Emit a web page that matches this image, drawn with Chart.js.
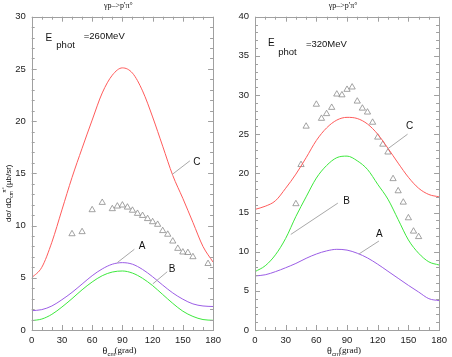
<!DOCTYPE html>
<html>
<head>
<meta charset="utf-8">
<script src="https://cdn.jsdelivr.net/npm/chart.js@4.4.1/dist/chart.umd.min.js"></script>
<style>
  body { margin: 0; background: #fff; }
  #wrap { position: relative; width: 452px; height: 357px; overflow: hidden; }
  canvas { position: absolute; top: 0; }
  #left { left: 0; }
  #right { left: 226px; }
</style>
</head>
<body>
<div id="wrap">
  <canvas id="left" width="226" height="357"></canvas>
  <canvas id="right" width="226" height="357"></canvas>
</div>
<script>
// angles (cm, degrees) for the model curves
const angles = [0, 10, 20, 30, 40, 50, 60, 70, 80, 90, 100, 110, 120, 130, 140, 150, 160, 170, 180];

// E_phot = 260 MeV
const left_C = [5.0, 6.0, 8.4, 11.5, 14.6, 17.4, 20.1, 22.7, 24.4, 25.1, 24.6, 22.9, 20.4, 17.6, 14.8, 12.6, 10.3, 8.0, 6.5];
const left_A = [1.85, 1.95, 2.3, 2.9, 3.6, 4.4, 5.2, 5.85, 6.3, 6.45, 6.3, 5.8, 5.1, 4.3, 3.55, 2.95, 2.5, 2.3, 2.25];
const left_B = [0.9, 1.05, 1.5, 2.2, 3.0, 3.85, 4.6, 5.2, 5.55, 5.65, 5.45, 4.95, 4.25, 3.4, 2.55, 1.8, 1.3, 1.0, 0.93];
const left_expX = [40, 50, 60, 70, 80, 85, 90, 95, 100, 105, 110, 115, 120, 125, 130, 135, 140, 145, 150, 155, 160, 175];
const left_expY = [9.2, 9.4, 11.5, 12.2, 11.6, 11.85, 11.95, 11.75, 11.45, 11.15, 10.95, 10.65, 10.35, 10.1, 9.5, 9.15, 8.5, 7.8, 7.45, 7.4, 7.0, 6.35];

// E_phot = 320 MeV
const right_C = [15.4, 15.8, 16.5, 18.1, 19.9, 22.0, 24.2, 25.8, 26.8, 27.15, 27.0, 26.3, 25.0, 23.2, 21.3, 19.5, 18.1, 17.3, 17.0];
const right_A = [6.9, 7.05, 7.45, 7.95, 8.5, 9.15, 9.7, 10.1, 10.3, 10.2, 9.8, 9.2, 8.4, 7.5, 6.6, 5.7, 4.85, 4.0, 3.75];
const right_B = [7.45, 8.2, 9.6, 11.7, 14.5, 17.0, 19.4, 21.0, 22.0, 22.2, 21.6, 20.5, 18.6, 16.7, 14.1, 11.5, 9.8, 8.7, 8.3];
const right_expX = [40, 45, 50, 60, 65, 70, 75, 80, 85, 90, 95, 100, 105, 110, 115, 120, 125, 130, 135, 140, 145, 150, 155, 160];
const right_expY = [16.1, 21.1, 26.0, 28.8, 27.0, 27.6, 28.4, 30.1, 30.0, 30.7, 31.0, 29.2, 28.3, 27.8, 26.5, 24.6, 23.7, 22.7, 19.3, 17.75, 16.3, 14.3, 12.6, 11.9];

const xTicks = [0, 30, 60, 90, 120, 150, 180];

const SANS = '"Liberation Sans", Arial, sans-serif';
const SERIF = '"Liberation Serif", "Times New Roman", serif';
const AXIS = '#a0a0a0';

function pts(xs, ys) {
  return xs.map((x, i) => ({ x: x, y: ys[i] }));
}

function curve(ys, color) {
  return {
    data: pts(angles, ys),
    showLine: true,
    borderColor: color,
    borderWidth: 1,
    pointRadius: 0,
    cubicInterpolationMode: 'monotone',
    fill: false
  };
}

// ticks inside the frame, frame, labels and leader lines
const decor = {
  id: 'decor',
  afterDraw(chart, args, o) {
    const ctx = chart.ctx;
    const a = chart.chartArea;
    const xs = chart.scales.x, ys = chart.scales.y;
    ctx.save();
    ctx.strokeStyle = AXIS;
    ctx.lineWidth = 1;
    ctx.strokeRect(Math.round(a.left) + 0.5, Math.round(a.top) + 0.5,
      Math.round(a.right - a.left), Math.round(a.bottom - a.top));
    ctx.beginPath();
    for (let v = 0; v <= 180; v += 10) {
      const p = Math.round(xs.getPixelForValue(v)) + 0.5;
      const len = v % 30 === 0 ? 5 : 3;
      ctx.moveTo(p, a.bottom); ctx.lineTo(p, a.bottom - len);
      ctx.moveTo(p, a.top); ctx.lineTo(p, a.top + len);
    }
    for (let v = 0; v <= o.yMax; v += 1) {
      const p = Math.round(ys.getPixelForValue(v)) + 0.5;
      const len = v % 5 === 0 ? 5 : 3;
      ctx.moveTo(a.left, p); ctx.lineTo(a.left + len, p);
      ctx.moveTo(a.right, p); ctx.lineTo(a.right - len, p);
    }
    ctx.stroke();

    // leader lines
    ctx.strokeStyle = '#a8a8a8';
    ctx.beginPath();
    o.leaders.forEach(l => {
      ctx.moveTo(xs.getPixelForValue(l[0]), ys.getPixelForValue(l[1]));
      ctx.lineTo(xs.getPixelForValue(l[2]), ys.getPixelForValue(l[3]));
    });
    ctx.stroke();

    ctx.fillStyle = '#111';
    ctx.textAlign = 'center';
    ctx.textBaseline = 'middle';
    o.notes.forEach(n => {
      ctx.font = n.font;
      ctx.fillText(n.text, xs.getPixelForValue(n.x), ys.getPixelForValue(n.y));
    });

    // title
    const cx = (a.left + a.right) / 2;
    ctx.font = '8px ' + SERIF;
    ctx.fillText('\u03b3p\u2013>p\'\u03c0\u00b0', cx - 4, 6);

    // x axis title
    ctx.textAlign = 'left';
    ctx.font = '10px ' + SERIF;
    let x0 = cx - 20;
    ctx.fillText('\u03b8', x0, 351);
    ctx.font = '6px ' + SANS;
    ctx.fillText('cm', x0 + 5, 354);
    ctx.font = '9px ' + SERIF;
    ctx.fillText('(grad)', x0 + 12, 351);

    if (o.yTitle) {
      ctx.translate(9, 192);
      ctx.rotate(-Math.PI / 2);
      ctx.textAlign = 'left';
      ctx.font = '8px ' + SANS;
      let t = -30;
      ctx.fillText('d\u03c3/ d\u03a9', t, 0);
      t += ctx.measureText('d\u03c3/ d\u03a9').width;
      ctx.font = '5px ' + SANS;
      ctx.fillText('cm', t, 3);
      ctx.fillText('\u03c0\u00b0', t + 5, -4);
      t += 10;
      ctx.font = '8px ' + SANS;
      ctx.fillText('(\u00b5b/sr)', t, 0);
    }
    ctx.restore();
  }
};

function makeChart(id, cfg) {
  return new Chart(document.getElementById(id), {
    type: 'scatter',
    data: {
      datasets: [
        curve(cfg.C, '#ff5b5b'),
        curve(cfg.A, '#9b5de5'),
        curve(cfg.B, '#3de83d'),
        {
          data: pts(cfg.expX, cfg.expY),
          pointStyle: 'triangle',
          pointRadius: 3.6,
          borderColor: '#8c8c8c',
          backgroundColor: 'rgba(0,0,0,0)',
          borderWidth: 0.8,
          showLine: false
        }
      ]
    },
    options: {
      responsive: false,
      animation: false,
      events: [],
      layout: { padding: { top: 16.7, right: cfg.padRight, bottom: 0, left: 0 } },
      plugins: {
        legend: { display: false },
        tooltip: { enabled: false },
        decor: { yMax: cfg.yMax, notes: cfg.notes, leaders: cfg.leaders, yTitle: cfg.yTitle }
      },
      scales: {
        x: {
          type: 'linear', min: 0, max: 180,
          afterBuildTicks: s => { s.ticks = xTicks.map(v => ({ value: v })); },
          afterFit: s => { s.height = 27; },
          grid: { display: false, drawTicks: false },
          border: { display: false },
          ticks: { padding: 5, color: '#222', font: { family: SANS, size: 9.5 } }
        },
        y: {
          type: 'linear', min: 0, max: cfg.yMax,
          ticks: { stepSize: 5, padding: 6, color: '#222', font: { family: SANS, size: 9.5 } },
          afterFit: s => { s.width = cfg.yWidth; },
          grid: { display: false, drawTicks: false },
          border: { display: false }
        }
      }
    },
    plugins: [decor]
  });
}

const lab = '10px ' + SANS;
const energy = '9.5px ' + SANS;

makeChart('left', {
  C: left_C, A: left_A, B: left_B, expX: left_expX, expY: left_expY,
  yMax: 30, yWidth: 31.7, padRight: 7, yTitle: true,
  leaders: [[139.5, 14.9, 157, 16.2], [84.9, 6.45, 101.9, 7.73], [120.1, 4.41, 134.5, 5.58]],
  notes: [
    { text: 'C', x: 164, y: 16.1, font: lab },
    { text: 'A', x: 109.6, y: 8.05, font: lab },
    { text: 'B', x: 139.3, y: 5.81, font: lab },
    { text: 'E', x: 16.9, y: 27.9, font: '10px ' + SANS },
    { text: 'phot', x: 33.6, y: 27.3, font: energy },
    { text: '=260MeV', x: 72, y: 28.1, font: energy }
  ]
});

makeChart('right', {
  C: right_C, A: right_A, B: right_B, expX: right_expX, expY: right_expY,
  yMax: 40, yWidth: 29, padRight: 8, yTitle: false,
  leaders: [[129.2, 23.07, 149.2, 25.0], [35, 12.2, 81, 16.2], [101.6, 9.7, 121.2, 11.36]],
  notes: [
    { text: 'C', x: 151.1, y: 26.0, font: lab },
    { text: 'B', x: 89.5, y: 16.4, font: lab },
    { text: 'A', x: 121.6, y: 12.25, font: lab },
    { text: 'E', x: 15.9, y: 36.6, font: '10px ' + SANS },
    { text: 'phot', x: 31.7, y: 35.5, font: energy },
    { text: '=320MeV', x: 69.8, y: 36.5, font: energy }
  ]
});
</script>
</body>
</html>
